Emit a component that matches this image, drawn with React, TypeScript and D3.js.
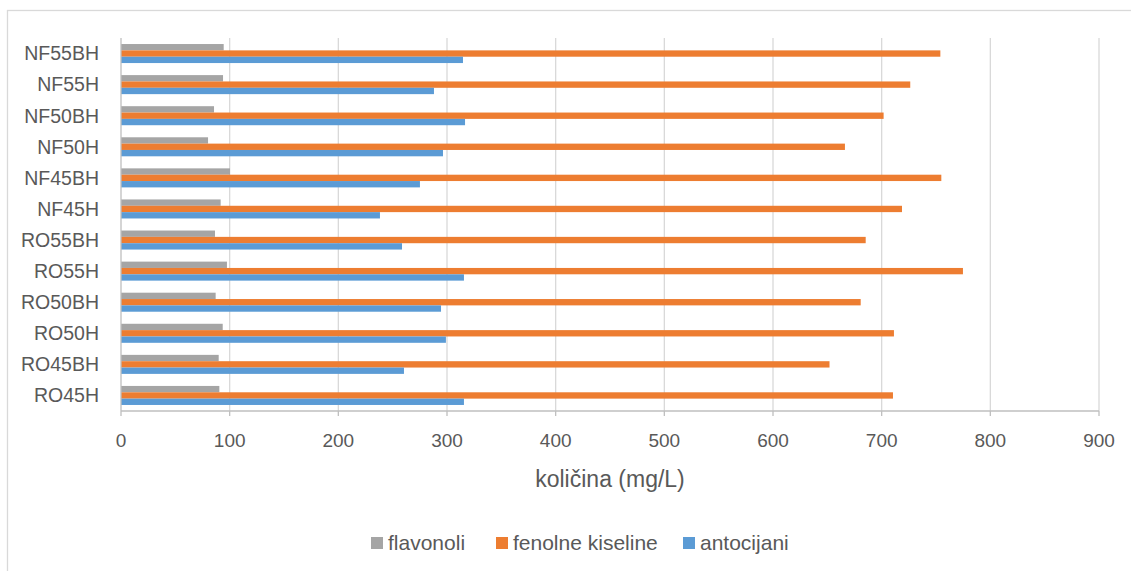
import React from "react";
import * as d3 from "d3";

const categories = ["RO45H", "RO45BH", "RO50H", "RO50BH", "RO55H", "RO55BH", "NF45H", "NF45BH", "NF50H", "NF50BH", "NF55H", "NF55BH"];
const flavonoli = [90.5, 89.9, 93.6, 87.1, 97.5, 86.5, 91.7, 100.3, 80.1, 85.6, 93.9, 94.5];
const fenolneKiseline = [710.4, 652, 711.3, 680.7, 774.8, 685.3, 718.7, 754.9, 666.2, 701.8, 726.3, 754];
const antocijani = [315.6, 260.4, 299, 294.5, 315.6, 258.6, 238.3, 275.1, 296.3, 316.6, 288, 314.7];
const xTicks = [0, 100, 200, 300, 400, 500, 600, 700, 800, 900];
const seriesNames = ["flavonoli", "fenolne kiseline", "antocijani"];
const seriesColors = ["#a5a5a5", "#ed7d31", "#5b9bd5"];
const seriesValues = [flavonoli, fenolneKiseline, antocijani];

const FONT = "'Liberation Sans', Arial, sans-serif";
const TEXT = "#595959";

export default function App() {
  const left = 121, right = 1099, top = 38, bottom = 411;
  const x = d3.scaleLinear().domain([0, 900]).range([left, right]);
  const y = d3.scaleBand<string>().domain([...categories].reverse()).range([top, bottom]).paddingInner(0).paddingOuter(0);
  const groupH = y.bandwidth() * 0.612;
  const inner = d3.scaleBand<string>().domain(seriesNames).range([0, groupH]);

  const legendX = [371, 496, 683];

  return (
    <svg width={1131} height={571} style={{ position: "absolute", left: 0, top: 0, background: "#fff" }} fontFamily={FONT}>
      <rect x={7.5} y={10.5} width={1140} height={590} fill="#fff" stroke="#d9d9d9" strokeWidth={1.3} />
      {xTicks.slice(1).map((t) => (
        <line key={"g" + t} x1={x(t)} x2={x(t)} y1={top} y2={bottom} stroke="#d9d9d9" strokeWidth={1.3} />
      ))}
      {categories.map((c, i) => {
        const b = (y(c) as number) + (y.bandwidth() - groupH) / 2;
        return (
          <g key={c}>
            {seriesNames.map((s, k) => (
              <rect
                key={s}
                x={x(0)}
                y={b + (inner(s) as number)}
                width={x(seriesValues[k][i]) - x(0)}
                height={inner.bandwidth()}
                fill={seriesColors[k]}
              />
            ))}
            <text x={99} y={(y(c) as number) + y.bandwidth() / 2} dy="0.35em" textAnchor="end" fontSize={19.5} fill={TEXT}>
              {c}
            </text>
          </g>
        );
      })}
      <line x1={left} x2={left} y1={top} y2={bottom} stroke="#bfbfbf" strokeWidth={1.3} />
      <line x1={left} x2={right} y1={bottom} y2={bottom} stroke="#bfbfbf" strokeWidth={1.5} />
      {xTicks.map((t) => (
        <g key={"t" + t}>
          <line x1={x(t)} x2={x(t)} y1={bottom} y2={bottom + 5} stroke="#bfbfbf" strokeWidth={1.3} />
          <text x={x(t)} y={440} dy="0.35em" textAnchor="middle" fontSize={19} fill={TEXT}>
            {t}
          </text>
        </g>
      ))}
      <text x={(left + right) / 2} y={479} dy="0.35em" textAnchor="middle" fontSize={23} fill={TEXT}>
        količina (mg/L)
      </text>
      {seriesNames.map((name, k) => (
        <g key={name}>
          <rect x={legendX[k]} y={537} width={12} height={12} fill={seriesColors[k]} />
          <text x={legendX[k] + 17} y={543} dy="0.35em" fontSize={21} fill={TEXT}>
            {name}
          </text>
        </g>
      ))}
    </svg>
  );
}
